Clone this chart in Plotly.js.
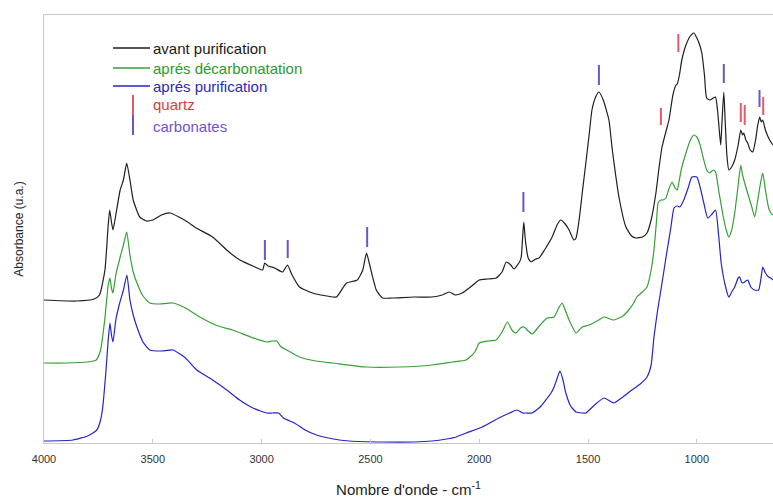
<!DOCTYPE html>
<html>
<head>
<meta charset="utf-8">
<script src="https://cdn.plot.ly/plotly-3.0.1.min.js"></script>
<style>html,body{margin:0;padding:0;background:#fff;}#chart{width:773px;height:502px;}</style>
</head>
<body>
<div id="chart"></div>
<script>
// ---- Data (wavenumber in cm-1, absorbance in arbitrary units, offset per spectrum) ----
const wnAvant = [4000,3850,3770,3745,3720,3705,3698,3690,3683,3670,
3650,3635,3620,3605,3590,3560,3530,3500,3460,3420,
3380,3340,3300,3225,3150,3100,3040,2995,2986,2970,
2940,2904,2881,2860,2826,2766,2700,2656,2610,2560,
2535,2518,2500,2473,2445,2400,2300,2216,2170,2138,
2110,2078,2040,2000,1960,1922,1895,1876,1855,1840,
1815,1807,1800,1795,1788,1775,1762,1740,1725,1700,
1665,1640,1625,1605,1587,1565,1555,1541,1525,1510,
1495,1482,1465,1450,1430,1404,1390,1375,1358,1326,
1300,1280,1250,1229,1210,1188,1175,1160,1140,1128,
1110,1096,1090,1080,1069,1050,1030,1014,1000,990,
977,965,955,940,925,914,905,895,890,884,
876,870,862,853,840,826,810,798,790,784,
775,766,755,743,730,720,711,704,697,685,
670,660,650];
const absAvant = [1.43,1.42,1.44,1.48,1.73,2.18,2.33,2.21,2.13,2.28,
2.53,2.63,2.80,2.63,2.43,2.26,2.22,2.23,2.28,2.30,
2.26,2.21,2.15,2.06,1.91,1.83,1.77,1.73,1.80,1.77,
1.75,1.71,1.78,1.68,1.56,1.50,1.47,1.46,1.60,1.63,
1.73,1.90,1.75,1.53,1.45,1.45,1.46,1.46,1.48,1.51,
1.48,1.50,1.56,1.63,1.64,1.65,1.71,1.81,1.78,1.74,
1.81,1.86,2.08,2.21,2.03,1.85,1.81,1.84,1.85,1.93,
2.06,2.19,2.23,2.19,2.13,2.03,2.05,2.23,2.53,2.80,
3.08,3.33,3.46,3.51,3.43,3.23,2.96,2.71,2.46,2.16,
2.07,2.05,2.06,2.10,2.23,2.50,2.73,2.96,3.13,3.23,
3.48,3.58,3.59,3.68,3.83,3.98,4.07,4.10,4.05,4.00,
3.90,3.68,3.45,3.43,3.45,3.46,3.33,3.08,2.98,3.23,
3.51,3.23,2.88,2.73,2.76,2.83,2.98,3.13,3.08,3.10,
3.03,3.00,2.93,2.91,3.03,3.18,3.26,3.21,3.23,3.13,
3.05,3.01,2.98];

const wnDecarb = [4000,3900,3800,3760,3740,3720,3705,3697,3690,3683,
3670,3650,3635,3620,3605,3590,3573,3545,3514,3470,
3408,3350,3284,3200,3133,3050,2977,2950,2931,2910,
2885,2826,2750,2674,2520,2367,2216,2124,2060,2020,
2000,1960,1922,1895,1871,1850,1831,1810,1794,1775,
1757,1720,1688,1656,1635,1619,1605,1587,1555,1540,
1527,1495,1450,1427,1381,1340,1313,1290,1276,1250,
1229,1210,1197,1185,1178,1165,1155,1142,1130,1114,
1100,1090,1083,1070,1050,1030,1014,1000,985,968,
955,941,925,914,900,880,865,853,840,826,
810,798,790,771,750,734,720,705,697,685,
670,660,650];
const absDecarb = [0.80,0.80,0.81,0.83,0.93,1.25,1.58,1.65,1.55,1.50,
1.68,1.86,1.98,2.11,1.88,1.71,1.60,1.47,1.40,1.39,
1.40,1.35,1.26,1.17,1.13,1.06,1.01,1.02,1.02,0.96,
0.93,0.86,0.82,0.80,0.76,0.76,0.78,0.81,0.83,0.91,
1.00,1.02,1.03,1.11,1.21,1.13,1.10,1.15,1.16,1.12,
1.09,1.18,1.25,1.26,1.35,1.40,1.33,1.23,1.10,1.13,
1.16,1.18,1.23,1.26,1.23,1.27,1.33,1.40,1.46,1.51,
1.56,1.73,1.93,2.23,2.40,2.43,2.43,2.45,2.53,2.61,
2.55,2.53,2.60,2.75,2.90,3.03,3.08,3.06,2.98,2.83,
2.73,2.70,2.73,2.71,2.53,2.28,2.13,2.06,2.13,2.30,
2.58,2.78,2.68,2.53,2.38,2.26,2.43,2.63,2.70,2.53,
2.35,2.30,2.28];

const wnPurif = [4000,3867,3800,3757,3740,3730,3715,3705,3697,3690,
3683,3670,3651,3635,3619,3605,3590,3573,3545,3514,
3460,3408,3350,3298,3225,3160,3101,3040,2977,2950,
2922,2900,2849,2800,2748,2670,2596,2445,2300,2216,
2150,2106,2060,1986,1910,1860,1826,1800,1785,1757,
1720,1694,1670,1656,1640,1629,1615,1602,1580,1555,
1530,1510,1470,1427,1400,1381,1340,1299,1260,1229,
1210,1197,1180,1160,1140,1119,1105,1090,1078,1060,
1040,1023,1000,985,968,950,930,914,900,888,
870,853,840,826,810,803,795,788,775,766,
752,735,716,705,697,685,670,660,650];
const absPurif = [0.02,0.03,0.07,0.13,0.23,0.36,0.73,1.03,1.20,1.08,
1.01,1.23,1.41,1.53,1.68,1.43,1.28,1.16,1.01,0.93,
0.92,0.93,0.85,0.73,0.63,0.53,0.43,0.35,0.30,0.30,
0.30,0.25,0.20,0.13,0.08,0.04,0.02,0.01,0.01,0.02,
0.04,0.06,0.10,0.16,0.25,0.30,0.33,0.30,0.30,0.30,
0.36,0.43,0.50,0.56,0.66,0.72,0.63,0.50,0.37,0.31,
0.30,0.30,0.38,0.45,0.42,0.40,0.46,0.53,0.59,0.66,
0.78,1.06,1.33,1.60,1.88,2.16,2.35,2.37,2.36,2.43,
2.55,2.66,2.66,2.56,2.40,2.25,2.29,2.33,2.08,1.80,
1.58,1.46,1.51,1.56,1.65,1.66,1.61,1.60,1.62,1.63,
1.56,1.53,1.53,1.65,1.76,1.70,1.66,1.65,1.63];

// Band markers: position (cm-1), lower and upper end of the tick, assignment
const bandWn     = [2985, 2880, 2515, 1797, 1450, 1165, 1085, 876, 798, 780, 712, 695];
const bandLow    = [1.83, 1.85, 1.96, 2.31, 3.58, 3.18, 3.91, 3.60, 3.21, 3.18, 3.36, 3.28];
const bandHigh   = [2.03, 2.03, 2.16, 2.51, 3.78, 3.35, 4.09, 3.79, 3.40, 3.38, 3.53, 3.46];
const bandType   = ['carbonates','carbonates','carbonates','carbonates','carbonates','quartz','quartz','carbonates','quartz','quartz','carbonates','quartz'];

const seriesNames = ['avant purification', 'aprés décarbonatation', 'aprés purification'];
const bandNames = ['quartz', 'carbonates'];

// ---- Styles ----
const lineColors = ['#1e1e1e', '#36a036', '#2424c8'];
const textColors = ['#1a1a1a', '#2c9a2c', '#2a2ab8'];
const bandColors = {quartz: '#e45a66', carbonates: '#6a55cc'};
const bandTextColors = {quartz: '#e23a3a', carbonates: '#7450d0'};

const spectra = [[wnAvant, absAvant], [wnDecarb, absDecarb], [wnPurif, absPurif]];
const traces = spectra.map((s, i) => ({
  type: 'scatter', mode: 'lines', x: s[0], y: s[1], name: seriesNames[i],
  line: {color: lineColors[i], width: 1.2, shape: 'spline', smoothing: 0.5}, showlegend: false, hoverinfo: 'skip'
}));

bandNames.forEach(bn => {
  const xs = [], ys = [];
  bandWn.forEach((w, k) => {
    if (bandType[k] === bn) { xs.push(w, w, null); ys.push(bandLow[k], bandHigh[k], null); }
  });
  traces.push({type: 'scatter', mode: 'lines', x: xs, y: ys, name: bn,
    line: {color: bandColors[bn], width: 2}, showlegend: false, hoverinfo: 'skip', connectgaps: false});
});

// ---- Hand-placed legend (paper coordinates) ----
const L = 44, R = 773, T = 15, B = 443;
const px = v => (v - L) / (R - L);
const py = v => (B - v) / (B - T);
const legendRows = [48, 68, 86];
const shapes = [];
const annotations = [];
const legFont = 'Liberation Sans, Arial, sans-serif';
seriesNames.forEach((n, i) => {
  shapes.push({type: 'line', xref: 'paper', yref: 'paper', x0: px(113), x1: px(150), y0: py(legendRows[i]), y1: py(legendRows[i]),
    line: {color: lineColors[i], width: 1.3}});
  annotations.push({xref: 'paper', yref: 'paper', x: px(151), y: py(legendRows[i]), xanchor: 'left', yanchor: 'middle',
    text: n, showarrow: false, font: {family: legFont, size: 15, color: textColors[i]}});
});
shapes.push({type: 'line', xref: 'paper', yref: 'paper', x0: px(133), x1: px(133), y0: py(95), y1: py(115), line: {color: bandColors.quartz, width: 2}});
shapes.push({type: 'line', xref: 'paper', yref: 'paper', x0: px(133), x1: px(133), y0: py(115), y1: py(135), line: {color: bandColors.carbonates, width: 2}});
annotations.push({xref: 'paper', yref: 'paper', x: px(151), y: py(105), xanchor: 'left', yanchor: 'middle',
  text: bandNames[0], showarrow: false, font: {family: legFont, size: 15, color: bandTextColors.quartz}});
annotations.push({xref: 'paper', yref: 'paper', x: px(151), y: py(126), xanchor: 'left', yanchor: 'middle',
  text: bandNames[1], showarrow: false, font: {family: legFont, size: 15, color: bandTextColors.carbonates}});

const layout = {
  width: 773, height: 502,
  margin: {l: 44, r: 0, t: 15, b: 59, pad: 0},
  paper_bgcolor: '#fff', plot_bgcolor: '#fff',
  font: {family: 'Liberation Sans, Arial, sans-serif', color: '#222'},
  showlegend: false,
  xaxis: {
    range: [4000, 650], autorange: false,
    tickmode: 'linear', tick0: 0, dtick: 500,
    ticks: 'inside', ticklen: 4, tickcolor: '#c8c8c8', tickwidth: 1,
    showline: true, linecolor: '#c8c8c8', linewidth: 1, mirror: true,
    showgrid: false, zeroline: false,
    tickfont: {size: 11, color: '#333'}, ticklabelstandoff: 6,
    title: {text: "Nombre d'onde - cm<sup>-1</sup>", font: {size: 15, color: '#222'}, standoff: 20},
    automargin: false
  },
  yaxis: {
    range: [0, 4.28], autorange: false,
    showticklabels: false, ticks: '',
    showline: true, linecolor: '#c8c8c8', linewidth: 1,
    showgrid: false, zeroline: false,
    title: {text: 'Absorbance (u.a.)', font: {size: 12, color: '#222'}, standoff: 16},
    automargin: false
  },
  shapes: shapes,
  annotations: annotations
};

Plotly.newPlot('chart', traces, layout, {displayModeBar: false, staticPlot: true});
</script>
</body>
</html>
